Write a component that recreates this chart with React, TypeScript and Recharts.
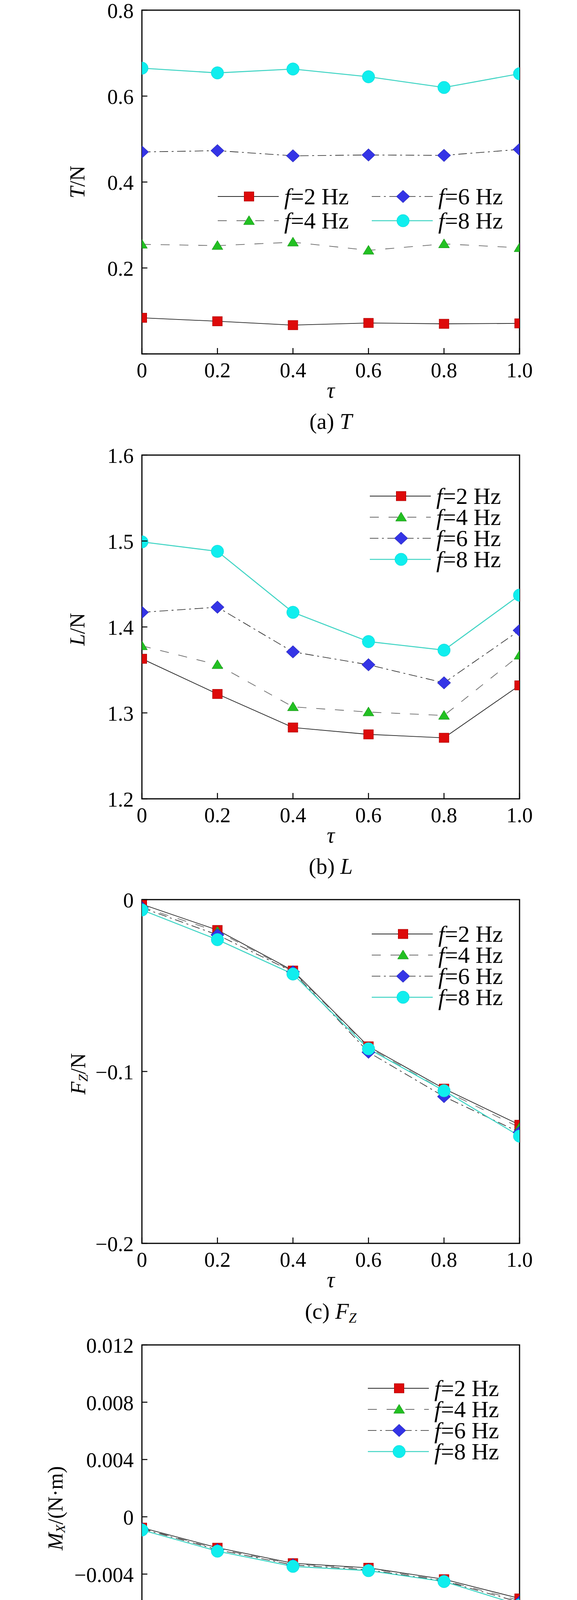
import React from 'react';
import { LineChart, Line, XAxis, YAxis, Legend, Label, ReferenceArea } from 'recharts';

const FONT = '"Liberation Serif", "Times New Roman", Times, serif';

// ---------- data ----------
const TAU = [0, 0.2, 0.4, 0.6, 0.8, 1.0];
const X_TICK_LABELS = ['0', '0.2', '0.4', '0.6', '0.8', '1.0'];
const SERIES_KEYS = ['f2', 'f4', 'f6', 'f8'];
const SERIES_NAMES = ['f=2 Hz', 'f=4 Hz', 'f=6 Hz', 'f=8 Hz'];

// (a) T
const T_F2 = [0.084, 0.076, 0.067, 0.072, 0.070, 0.071];
const T_F4 = [0.255, 0.252, 0.260, 0.241, 0.256, 0.247];
const T_F6 = [0.470, 0.473, 0.461, 0.463, 0.462, 0.476];
const T_F8 = [0.665, 0.654, 0.663, 0.645, 0.620, 0.652];
const T_TICKS = [0, 0.2, 0.4, 0.6, 0.8];
const T_TICK_LABELS = ['', '0.2', '0.4', '0.6', '0.8'];

// (b) L
const L_F2 = [1.363, 1.322, 1.283, 1.275, 1.271, 1.332];
const L_F4 = [1.378, 1.356, 1.307, 1.301, 1.297, 1.367];
const L_F6 = [1.417, 1.423, 1.371, 1.356, 1.335, 1.396];
const L_F8 = [1.499, 1.488, 1.417, 1.383, 1.373, 1.437];
const L_TICKS = [1.2, 1.3, 1.4, 1.5, 1.6];
const L_TICK_LABELS = ['1.2', '1.3', '1.4', '1.5', '1.6'];

// (c) Fz
const FZ_F2 = [-0.0027, -0.0177, -0.0413, -0.0854, -0.1100, -0.1310];
const FZ_F4 = [-0.0043, -0.0185, -0.0418, -0.0860, -0.1110, -0.1326];
const FZ_F6 = [-0.0047, -0.0205, -0.0420, -0.0888, -0.1146, -0.1354];
const FZ_F8 = [-0.0060, -0.0233, -0.0433, -0.0868, -0.1112, -0.1376];
const FZ_TICKS = [-0.2, -0.1, 0];
const FZ_TICK_LABELS = ['\u22120.2', '\u22120.1', '0'];

// (d) Mx
const MX_F2 = [-0.00076, -0.00216, -0.00324, -0.00356, -0.00436, -0.00570];
const MX_F4 = [-0.00080, -0.00224, -0.00330, -0.00360, -0.00444, -0.00584];
const MX_F6 = [-0.00084, -0.00230, -0.00336, -0.00370, -0.00448, -0.00596];
const MX_F8 = [-0.00092, -0.00240, -0.00346, -0.00376, -0.00452, -0.00616];

// (e) My
const MY_F2 = [0.00064, 0.00020, -0.00032, -0.00142, -0.00156, -0.00250];
const MY_F4 = [0.00088, 0.00040, -0.00048, -0.00196, -0.00212, -0.00376];
const MY_F6 = [0.00096, 0.00060, -0.00076, -0.00302, -0.00360, -0.00666];
const MY_F8 = [0.00114, 0.00068, -0.00096, -0.00396, -0.00566, -0.00840];

// (f) Mz
const MZ_F2 = [-0.00090, 0.00010, 0.00038, 0.00102, 0.00360, 0.00420];
const MZ_F4 = [-0.00150, 0.00034, 0.00114, 0.00290, 0.00544, 0.00686];
const MZ_F6 = [-0.00134, 0.00054, 0.00180, 0.00530, 0.00686, 0.00986];
const MZ_F8 = [-0.00140, 0.00066, 0.00256, 0.00690, 0.00886, 0.01180];

const M_TICKS = [-0.012, -0.008, -0.004, 0, 0.004, 0.008, 0.012];
const M_TICK_LABELS = ['\u22120.012', '\u22120.008', '\u22120.004', '0', '0.004', '0.008', '0.012'];

// ---------- styles ----------
const SERIES_STYLE: Record<string, any> = {
  f2: { stroke: '#262626', width: 1.8, dash: undefined, shape: 'square' },
  f4: { stroke: '#6a6a6a', width: 1.8, dash: '23 25', shape: 'triangle' },
  f6: { stroke: '#262626', width: 1.6, dash: '22 9 5 9', shape: 'diamond' },
  f8: { stroke: '#3fd4c4', width: 2.6, dash: undefined, shape: 'circle' },
};

const PLOT_H = 880;
const MT = 60;
const PLOT_LEFT = 363;
const PLOT_RIGHT = 1329;
const CHART_W = 1476;
const X_AXIS_H = 220;
const CHART_H = MT + PLOT_H + X_AXIS_H;
const PLOT_CX = (PLOT_LEFT + PLOT_RIGHT) / 2;

function Marker({ shape, cx, cy }: { shape: string; cx: number; cy: number }) {
  if (cx == null || cy == null || isNaN(cx) || isNaN(cy)) return null;
  switch (shape) {
    case 'square':
      return <rect x={cx - 12.5} y={cy - 12} width={25} height={24} fill="#dd0a0a" stroke="#a80000" strokeWidth={1} />;
    case 'triangle':
      return (
        <polygon
          points={`${cx},${cy - 13} ${cx - 14},${cy + 10} ${cx + 14},${cy + 10}`}
          fill="#22c022"
          stroke="#179017"
          strokeWidth={1}
        />
      );
    case 'diamond':
      return (
        <polygon
          points={`${cx},${cy - 16} ${cx + 17},${cy} ${cx},${cy + 16} ${cx - 17},${cy}`}
          fill="#3434e6"
          stroke="#2020a8"
          strokeWidth={1}
        />
      );
    default:
      return <circle cx={cx} cy={cy} r={16} fill="#10eeee" stroke="#10d8d8" strokeWidth={1} />;
  }
}

function findLabel(value: number, ticks: number[], labels: string[]) {
  for (let i = 0; i < ticks.length; i++) {
    if (Math.abs(ticks[i] - value) < 1e-9) return labels[i];
  }
  return String(value);
}

function XTick(props: any) {
  const { x, y, payload } = props;
  const axisY = y - 22;
  return (
    <g>
      <line x1={x} y1={axisY} x2={x} y2={axisY - 15} stroke="#000" strokeWidth={2.5} />
      <text
        x={x}
        y={axisY + 42}
        textAnchor="middle"
        dominantBaseline="central"
        fontSize={54}
        fontFamily={FONT}
        fill="#000"
      >
        {findLabel(payload.value, TAU, X_TICK_LABELS)}
      </text>
    </g>
  );
}

function YTick(props: any) {
  const { x, y, payload, tickValues, tickLabels } = props;
  const axisX = x + 21;
  return (
    <g>
      <line x1={axisX} y1={y} x2={axisX + 14} y2={y} stroke="#000" strokeWidth={2.5} />
      <text
        x={x}
        y={y + 2}
        textAnchor="end"
        dominantBaseline="central"
        fontSize={54}
        fontFamily={FONT}
        fill="#000"
      >
        {findLabel(payload.value, tickValues, tickLabels)}
      </text>
    </g>
  );
}

function LegendBox({ payload, rowH, cols, colW }: any) {
  const items = (payload || []).filter((p: any) => SERIES_STYLE[p.dataKey]);
  return (
    <div
      style={{
        display: 'grid',
        gridTemplateRows: `repeat(${cols === 2 ? 2 : items.length}, ${rowH}px)`,
        gridAutoFlow: 'column',
        gridAutoColumns: cols === 2 ? `${colW}px` : 'auto',
        fontFamily: FONT,
      }}
    >
      {items.map((p: any) => {
        const st = SERIES_STYLE[p.dataKey];
        const name: string = String(p.value);
        return (
          <div key={p.dataKey} style={{ display: 'flex', alignItems: 'center', height: rowH }}>
            <svg width={156} height={rowH} style={{ display: 'block', overflow: 'visible' }}>
              <line
                x1={0}
                y1={rowH / 2}
                x2={156}
                y2={rowH / 2}
                stroke={st.stroke}
                strokeWidth={st.width}
                strokeDasharray={st.dash}
              />
              <Marker shape={st.shape} cx={80} cy={rowH / 2} />
            </svg>
            <span style={{ marginLeft: 14, fontSize: 60, lineHeight: 1, whiteSpace: 'nowrap', color: '#000' }}>
              <i>{name.slice(0, 1)}</i>
              {name.slice(1)}
            </span>
          </div>
        );
      })}
    </div>
  );
}

const sub = (t: string) => (
  <sub style={{ fontSize: '0.62em', fontStyle: 'italic', verticalAlign: '-0.28em' }}>{t}</sub>
);

const PANELS = [
  {
    id: 'a',
    plotTop: 25.5,
    series: [T_F2, T_F4, T_F6, T_F8],
    domain: [0, 0.8],
    ticks: T_TICKS,
    tickLabels: T_TICK_LABELS,
    yMain: 'T',
    ySub: '',
    yUnit: '/N',
    yLabelX: 198,
    yLabelDy: 0,
    legend: { left: 557, row: 503, rowH: 62, cols: 2, colW: 394 },
    capOff: 172,
    caption: (
      <>
        (a) <i>T</i>
      </>
    ),
  },
  {
    id: 'b',
    plotTop: 1164.5,
    series: [L_F2, L_F4, L_F6, L_F8],
    domain: [1.2, 1.6],
    ticks: L_TICKS,
    tickLabels: L_TICK_LABELS,
    yMain: 'L',
    ySub: '',
    yUnit: '/N',
    yLabelX: 198,
    yLabelDy: 6,
    legend: { left: 946, row: 1270, rowH: 54, cols: 1, colW: 0 },
    capOff: 172,
    caption: (
      <>
        (b) <i>L</i>
      </>
    ),
  },
  {
    id: 'c',
    plotTop: 2303,
    series: [FZ_F2, FZ_F4, FZ_F6, FZ_F8],
    domain: [-0.2, 0],
    ticks: FZ_TICKS,
    tickLabels: FZ_TICK_LABELS,
    yMain: 'F',
    ySub: 'Z',
    yUnit: '/N',
    yLabelX: 200,
    yLabelDy: 6,
    legend: { left: 951, row: 2391, rowH: 54, cols: 1, colW: 0 },
    capOff: 177,
    caption: (
      <>
        (c) <i>F</i>
        {sub('Z')}
      </>
    ),
  },
  {
    id: 'd',
    plotTop: 3442.5,
    series: [MX_F2, MX_F4, MX_F6, MX_F8],
    domain: [-0.012, 0.012],
    ticks: M_TICKS,
    tickLabels: M_TICK_LABELS,
    yMain: 'M',
    ySub: 'X',
    yUnit: '/(N\u00B7m)',
    yLabelX: 142,
    yLabelDy: -22,
    legend: { left: 941, row: 3554, rowH: 54, cols: 1, colW: 0 },
    capOff: 176,
    caption: (
      <>
        (d) <i>M</i>
        {sub('X')}
      </>
    ),
  },
  {
    id: 'e',
    plotTop: 4581.5,
    series: [MY_F2, MY_F4, MY_F6, MY_F8],
    domain: [-0.012, 0.012],
    ticks: M_TICKS,
    tickLabels: M_TICK_LABELS,
    yMain: 'M',
    ySub: 'Y',
    yUnit: '/(N\u00B7m)',
    yLabelX: 142,
    yLabelDy: -24,
    legend: { left: 949, row: 4693, rowH: 54, cols: 1, colW: 0 },
    capOff: 170,
    caption: (
      <>
        (e) <i>M</i>
        {sub('Y')}
      </>
    ),
  },
  {
    id: 'f',
    plotTop: 5714.7,
    series: [MZ_F2, MZ_F4, MZ_F6, MZ_F8],
    domain: [-0.012, 0.012],
    ticks: M_TICKS,
    tickLabels: M_TICK_LABELS,
    yMain: 'M',
    ySub: 'Z',
    yUnit: '/(N\u00B7m)',
    yLabelX: 142,
    yLabelDy: -28,
    legend: { left: 421, row: 5777, rowH: 54, cols: 1, colW: 0 },
    capOff: 183,
    caption: (
      <>
        (f) <i>M</i>
        {sub('Z')}
      </>
    ),
  },
];

function Panel({ cfg }: { cfg: any }) {
  const data = TAU.map((t, i) => {
    const row: any = { tau: t };
    SERIES_KEYS.forEach((k, j) => {
      row[k] = cfg.series[j][i];
    });
    return row;
  });
  const ly = MT + PLOT_H / 2 + cfg.yLabelDy;
  const lx = cfg.yLabelX;
  const legendTop = cfg.legend.row - cfg.legend.rowH / 2 - (cfg.plotTop - MT);
  return (
    <div style={{ position: 'absolute', left: 0, top: cfg.plotTop - MT, width: CHART_W, height: CHART_H }}>
      <LineChart
        width={CHART_W}
        height={CHART_H}
        data={data}
        margin={{ top: MT, right: CHART_W - PLOT_RIGHT, bottom: 0, left: 0 }}
      >
        <XAxis
          dataKey="tau"
          type="number"
          domain={[0, 1]}
          ticks={TAU}
          interval={0}
          allowDataOverflow
          height={X_AXIS_H}
          axisLine={false}
          tickLine={false}
          tickSize={0}
          tickMargin={22}
          tick={<XTick />}
        >
          <Label
            content={() => (
              <text
                x={PLOT_CX}
                y={MT + PLOT_H + 93}
                textAnchor="middle"
                dominantBaseline="central"
                fontSize={56}
                fontStyle="italic"
                fontFamily={FONT}
                fill="#000"
              >
                τ
              </text>
            )}
          />
        </XAxis>
        <YAxis
          type="number"
          domain={cfg.domain}
          ticks={cfg.ticks}
          interval={0}
          allowDataOverflow
          width={PLOT_LEFT}
          axisLine={false}
          tickLine={false}
          tickSize={0}
          tickMargin={21}
          tick={<YTick tickValues={cfg.ticks} tickLabels={cfg.tickLabels} />}
        >
          <Label
            content={() => (
              <text
                x={lx}
                y={ly}
                transform={`rotate(-90 ${lx} ${ly})`}
                textAnchor="middle"
                dominantBaseline="central"
                fontSize={54}
                fontFamily={FONT}
                fill="#000"
              >
                <tspan fontStyle="italic">{cfg.yMain}</tspan>
                {cfg.ySub ? (
                  <tspan fontStyle="italic" fontSize={34} dy={12}>
                    {cfg.ySub}
                  </tspan>
                ) : null}
                <tspan dy={cfg.ySub ? -12 : 0}>{cfg.yUnit}</tspan>
              </text>
            )}
          />
        </YAxis>
        <ReferenceArea
          x1={0}
          x2={1}
          y1={cfg.domain[0]}
          y2={cfg.domain[1]}
          fill="none"
          fillOpacity={0}
          stroke="#000"
          strokeWidth={3}
          ifOverflow="visible"
        />
        {SERIES_KEYS.map((k, j) => {
          const st = SERIES_STYLE[k];
          return (
            <Line
              key={k}
              dataKey={k}
              name={SERIES_NAMES[j]}
              type="linear"
              stroke={st.stroke}
              strokeWidth={st.width}
              strokeDasharray={st.dash}
              isAnimationActive={false}
              activeDot={false}
              dot={(p: any) => <Marker key={`${k}-${p.index}`} shape={st.shape} cx={p.cx} cy={p.cy} />}
            />
          );
        })}
        <Legend
          layout="vertical"
          align="center"
          verticalAlign="middle"
          wrapperStyle={{ left: cfg.legend.left, top: legendTop, width: 'auto', height: 'auto' }}
          content={(props: any) => (
            <LegendBox payload={props.payload} rowH={cfg.legend.rowH} cols={cfg.legend.cols} colW={cfg.legend.colW} />
          )}
        />
      </LineChart>
      <div
        style={{
          position: 'absolute',
          left: PLOT_CX,
          top: MT + PLOT_H + cfg.capOff,
          transform: 'translate(-50%, -50%)',
          fontSize: 57,
          fontFamily: FONT,
          lineHeight: 1,
          whiteSpace: 'nowrap',
          color: '#000',
        }}
      >
        {cfg.caption}
      </div>
    </div>
  );
}

export default function App() {
  return (
    <div
      style={{
        position: 'absolute',
        left: 0,
        top: 0,
        width: 1476,
        height: 6817,
        background: '#fff',
        overflow: 'hidden',
      }}
    >
      {PANELS.map((cfg) => (
        <Panel key={cfg.id} cfg={cfg} />
      ))}
    </div>
  );
}
